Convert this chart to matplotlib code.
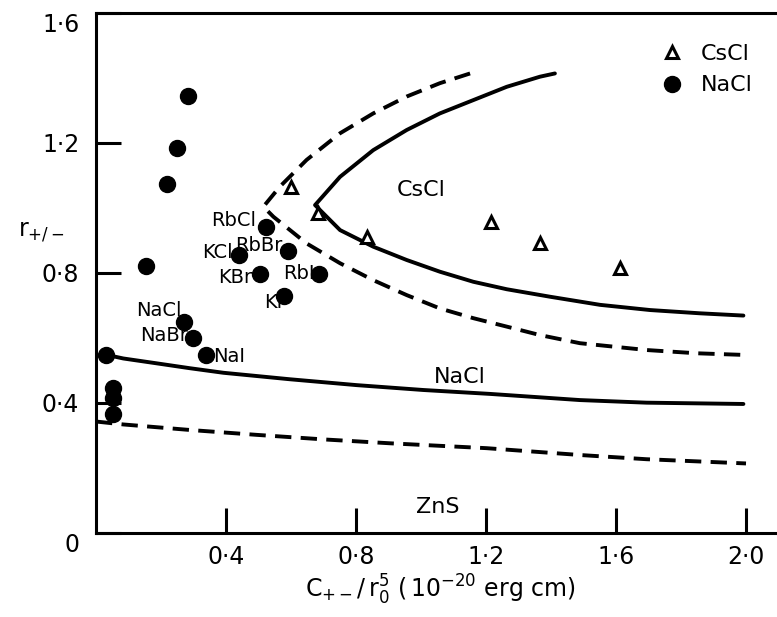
import matplotlib
matplotlib.use("Agg")
import matplotlib.pyplot as plt

plt.rcParams['font.family'] = ['DejaVu Sans']

# ---- data ----
x_ticks = [0.4, 0.8, 1.2, 1.6, 2.0]
x_ticklabels = ["0·4", "0·8", "1·2", "1·6", "2·0"]
y_ticks = [0.0, 0.4, 0.8, 1.2, 1.6]
y_ticklabels = ["0", "0·4", "0·8", "1·2", "1·6"]

# NaCl-structure compounds (filled circles)
nacl_x = [0.282, 0.248, 0.219, 0.153, 0.522, 0.441, 0.592, 0.505, 0.687, 0.578,
          0.271, 0.297, 0.338, 0.031, 0.053, 0.053, 0.053]
nacl_y = [1.345, 1.184, 1.073, 0.822, 0.943, 0.855, 0.869, 0.797, 0.797, 0.730,
          0.650, 0.601, 0.548, 0.548, 0.445, 0.415, 0.365]

# CsCl-structure compounds (open triangles)
cscl_x = [0.599, 0.684, 0.833, 1.215, 1.366, 1.612]
cscl_y = [1.064, 0.984, 0.912, 0.958, 0.891, 0.814]

# point labels: text, x, y, alignment
lab_text = ["RbCl", "KCl", "RbBr", "KBr", "RbI", "KI", "NaCl", "NaBr", "NaI"]
lab_x = [0.494, 0.422, 0.575, 0.480, 0.674, 0.572, 0.265, 0.283, 0.360]
lab_y = [0.963, 0.862, 0.886, 0.785, 0.797, 0.708, 0.686, 0.609, 0.542]
lab_ha = ["right", "right", "right", "right", "right", "right", "right", "right", "left"]

# boundary curves
cscl_solid_x = [1.412, 1.366, 1.264, 1.161, 1.058, 0.956, 0.853, 0.751, 0.674,
                0.751, 0.853, 0.956, 1.058, 1.161, 1.264, 1.397, 1.551, 1.705, 1.858, 1.992]
cscl_solid_y = [1.414, 1.404, 1.373, 1.332, 1.291, 1.240, 1.178, 1.096, 1.009,
                0.932, 0.881, 0.840, 0.804, 0.773, 0.750, 0.727, 0.702, 0.686, 0.676, 0.669]

cscl_dash_x = [1.151, 1.058, 0.956, 0.853, 0.751, 0.648, 0.566, 0.515,
               0.546, 0.648, 0.751, 0.853, 0.956, 1.058, 1.161, 1.264, 1.366, 1.489,
               1.694, 1.848, 1.992]
cscl_dash_y = [1.414, 1.384, 1.343, 1.291, 1.230, 1.148, 1.066, 1.004,
               0.973, 0.891, 0.830, 0.778, 0.732, 0.691, 0.661, 0.635, 0.609, 0.584,
               0.563, 0.553, 0.548]

nacl_solid_x = [0.033, 0.084, 0.187, 0.289, 0.392, 0.597, 0.802, 1.007, 1.212,
                1.489, 1.694, 1.992]
nacl_solid_y = [0.548, 0.537, 0.522, 0.507, 0.493, 0.473, 0.455, 0.440, 0.428,
                0.409, 0.401, 0.397]

zns_dash_x = [0.0, 0.084, 0.289, 0.494, 0.700, 0.905, 1.202, 1.489, 1.694, 2.0]
zns_dash_y = [0.343, 0.334, 0.317, 0.302, 0.288, 0.276, 0.261, 0.240, 0.227, 0.214]

region_text = ["CsCl", "NaCl", "ZnS"]
region_x = [1.002, 1.120, 1.053]
region_y = [1.055, 0.481, 0.081]

# ---- figure ----
W, H = 777, 617
fig = plt.figure(figsize=(W / 100, H / 100), dpi=100)
ax = fig.add_axes([96 / W, 1 - 533 / H, (W - 96) / W, (533 - 13) / H])
ax.set_xlim(0, 681 / 325)
ax.set_ylim(0, 1.6)

lw = 2.8
ax.plot(cscl_solid_x, cscl_solid_y, color='black', lw=lw, solid_capstyle='round')
ax.plot(nacl_solid_x, nacl_solid_y, color='black', lw=lw, solid_capstyle='round')
ax.plot(cscl_dash_x, cscl_dash_y, color='black', lw=lw, dashes=(4.2, 2.4))
ax.plot(zns_dash_x, zns_dash_y, color='black', lw=lw, dashes=(4.2, 2.4))

ax.plot(cscl_x, cscl_y, linestyle='none', marker='^', ms=8.5, mfc='white',
        mec='black', mew=2.2, label='CsCl', zorder=5)
ax.plot(nacl_x, nacl_y, linestyle='none', marker='o', ms=11.5, mfc='black',
        mec='black', label='NaCl', zorder=5)

for t, x, y, ha in zip(lab_text, lab_x, lab_y, lab_ha):
    ax.text(x, y, t, ha=ha, va='center', fontsize=14)

for t, x, y in zip(region_text, region_x, region_y):
    ax.text(x, y, t, ha='center', va='center', fontsize=16)

ax.set_xticks(x_ticks)
ax.set_xticklabels(x_ticklabels)
ax.set_yticks(y_ticks)
ax.set_yticklabels(y_ticklabels)
ax.tick_params(axis='both', direction='in', length=18, width=2.2, labelsize=17, pad=9)
ax.tick_params(axis='y', pad=12)
ylabs = ax.get_yticklabels()
ylabs[0].set_va('top')
ylabs[-1].set_va('top')

for s in ['left', 'bottom', 'top']:
    ax.spines[s].set_linewidth(2.2)
ax.spines['right'].set_visible(False)

leg = ax.legend(loc='upper left', bbox_to_anchor=(0.83, 0.94), frameon=False,
                fontsize=16, handlelength=1.0, handletextpad=0.8, labelspacing=0.5,
                borderaxespad=0, borderpad=0)

fig.text(18 / W, 1 - 232 / H, r'$\mathregular{r_{+/-}}$', ha='left', va='center', fontsize=17)
fig.text(440 / W, 1 - 590 / H, r'$\mathregular{C_{+-}/\,r_0^5\ (\,10^{-20}\ erg\ cm)}$',
         ha='center', va='center', fontsize=17)

fig.savefig('out.png', dpi=100)
